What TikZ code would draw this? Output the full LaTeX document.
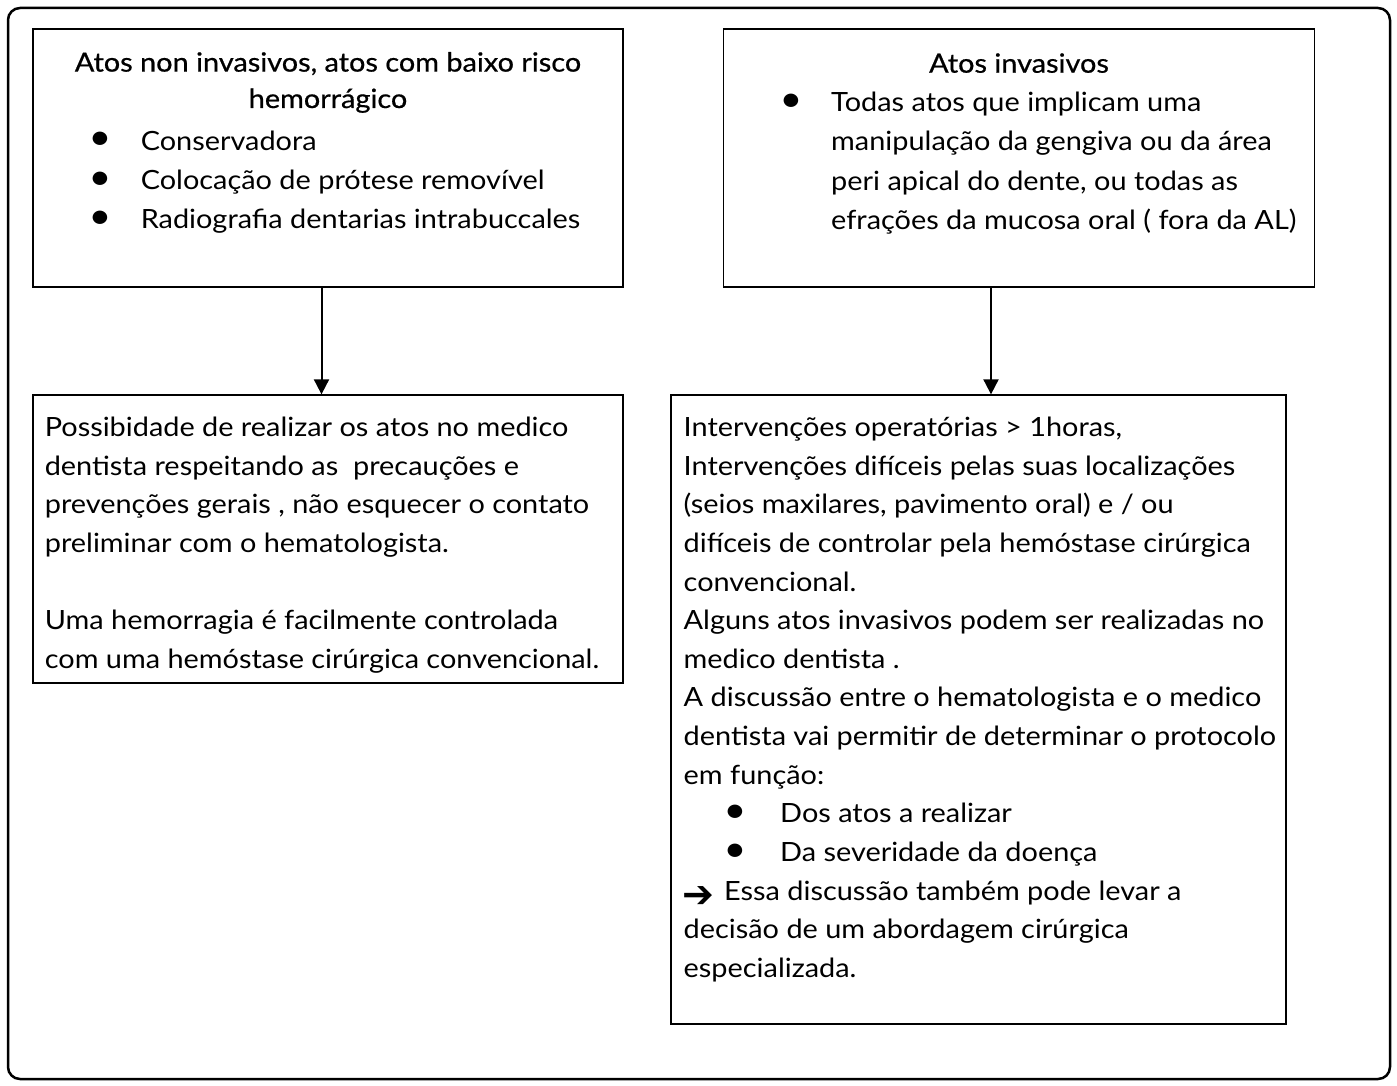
\documentclass[tikz,border=0pt]{standalone}
\usepackage{fontspec}
\setmainfont[FakeStretch=1.09]{Lato}
\newfontfamily\ttlfont[FakeStretch=1.09,FakeBold=0.6]{Lato}
\newfontfamily\symfont{DejaVu Sans}
\usetikzlibrary{arrows.meta}
\newcommand{\fsA}{\fontsize{26.5}{38.6}\selectfont}
\newcommand{\fsB}{\fontsize{26.5}{39.3}\selectfont}
\newcommand{\fsT}{\ttlfont\fontsize{26.5}{36.4}\selectfont}
\newcommand{\fsBul}{\fontsize{36}{38.6}\selectfont}
\tikzset{
  frame/.style={draw, line width=2.5pt, rounded corners=12pt, inner sep=0pt},
  box/.style={draw, line width=1.3pt, inner sep=0pt},
  txt/.style={anchor=base west, inner sep=0pt, align=left, font=\fsA},
  btxt/.style={anchor=base west, inner sep=0pt, align=left, font=\fsB},
  ttl/.style={anchor=base, inner sep=0pt, align=center, font=\fsT},
  bul/.style={anchor=base, inner sep=0pt, font=\fsBul},
  conn/.style={line width=2pt, -{Triangle[length=15pt,width=15pt]}}
}
\begin{document}
\begin{tikzpicture}[x=1pt,y=-1pt]
\useasboundingbox (0,0) rectangle (1397,1086);
% outer frame
\node[frame, minimum width=1382pt, minimum height=1071pt] (frame) at (699,543.5) {};
% boxes
\node[box, minimum width=590pt, minimum height=258pt] (b1) at (328,158) {};
\node[box, minimum width=591pt, minimum height=258pt] (b2) at (1019,158) {};
\node[box, minimum width=590pt, minimum height=288pt] (b3) at (328,539) {};
\node[box, minimum width=615pt, minimum height=629pt] (b4) at (978.5,709.5) {};
% connectors
\coordinate (xa) at (321.5,0);
\coordinate (xb) at (991,0);
\draw[conn] (b1.south -| xa) -- (b3.north -| xa);
\draw[conn] (b2.south -| xb) -- (b4.north -| xb);
% box 1 text (base anchor = last line)
\node[ttl] (t1) at (328,108) {Atos non invasivos, atos com baixo risco\\hemorrágico};
\node[bul] (t1b1) at (100,150) {•};
\node[bul] (t1b2) at (100,189.3) {•};
\node[bul] (t1b3) at (100,228.6) {•};
\node[btxt] (t1l) at (140.6,228.6) {Conservadora\\Colocação de prótese removível\\Radiografia dentarias intrabuccales};
% box 2 text
\node[ttl] (t2) at (1019,72.7) {Atos invasivos};
\node[bul] (t2b1) at (791,111.7) {•};
\node[btxt] (t2l) at (831,229.6) {Todas atos que implicam uma\\manipulação da gengiva ou da área\\peri apical do dente, ou todas as\\efrações da mucosa oral ( fora da AL)};
% box 3 text
\node[txt] (t3) at (44.6,668.3) {Possibidade de realizar os atos no medico\\dentista respeitando as\ \ precauções e\\prevenções gerais , não esquecer o contato\\preliminar com o hematologista.\\[38.6pt]Uma hemorragia é facilmente controlada\\com uma hemóstase cirúrgica convencional.};
% box 4 text
\node[txt] (t4a) at (683.5,784.1) {Intervenções operatórias > 1horas,\\Intervenções difíceis pelas suas localizações\\(seios maxilares, pavimento oral) e / ou\\difíceis de controlar pela hemóstase cirúrgica\\convencional.\\Alguns atos invasivos podem ser realizadas no\\medico dentista .\\A discussão entre o hematologista e o medico\\dentista vai permitir de determinar o protocolo\\em função:};
\node[bul] (t4b1) at (735,822.7) {•};
\node[bul] (t4b2) at (735,861.3) {•};
\node[txt] (t4b) at (780,861.3) {Dos atos a realizar\\Da severidade da doença};
\node[anchor=base west, inner sep=0pt, font=\fontsize{38}{38}\symfont] (t4arr) at (682,907) {➔};
\node[txt] (t4c) at (724,900) {Essa discussão também pode levar a};
\node[txt] (t4d) at (683.5,977.2) {decisão de um abordagem cirúrgica\\especializada.};
\end{tikzpicture}
\end{document}
